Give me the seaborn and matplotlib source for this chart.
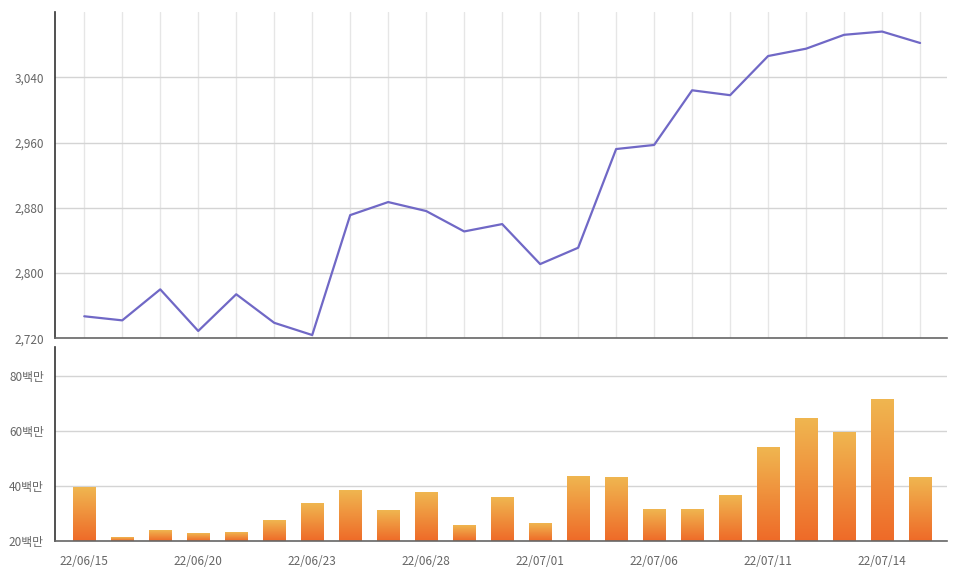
import numpy as np
import pandas as pd
import matplotlib
matplotlib.use("Agg")
import matplotlib.pyplot as plt
from matplotlib.colors import LinearSegmentedColormap
from matplotlib.ticker import FuncFormatter
import seaborn as sns

#data
dates = ["22/06/15", "22/06/16", "22/06/17", "22/06/20", "22/06/21", "22/06/22",
         "22/06/23", "22/06/24", "22/06/27", "22/06/28", "22/06/29", "22/06/30",
         "22/07/01", "22/07/04", "22/07/05", "22/07/06", "22/07/07", "22/07/08",
         "22/07/11", "22/07/12", "22/07/13", "22/07/14", "22/07/15"]
index_values = [2747, 2742, 2780, 2729, 2774, 2739, 2724, 2871, 2887, 2876, 2851, 2860,
                2811, 2831, 2952, 2957, 3024, 3018, 3066, 3075, 3092, 3096, 3082]
volume_millions = [39.4, 21.1, 23.9, 22.8, 23.2, 27.6, 33.7, 38.4, 30.9, 37.5, 25.8, 35.7,
                   26.5, 43.5, 43.2, 31.3, 31.3, 36.4, 53.9, 64.6, 59.2, 71.3, 43.2]

df = pd.DataFrame({"date": dates, "pos": range(len(dates)),
                   "index": index_values, "volume": volume_millions})

sns.set_style("white")
plt.rcParams["font.family"] = ["Noto Sans CJK KR", "DejaVu Sans"]

fig = plt.figure(figsize=(9.6, 5.84), dpi=100)
ax1 = fig.add_axes([0.0573, 0.4207, 0.9292, 0.5588])
ax2 = fig.add_axes([0.0573, 0.0736, 0.9292, 0.3327])

xmin, xmax = -0.77, len(dates) - 1 + 0.71

#top: index line
for x in df["pos"]:
    ax1.axvline(x, color="#e6e6e6", lw=1, zorder=0)
sns.lineplot(data=df, x="pos", y="index", ax=ax1, color="#7068c6", lw=1.6, zorder=3)
ax1.set_ylim(2720, 3120)
ax1.set_xlim(xmin, xmax)
ax1.set_yticks([2720, 2800, 2880, 2960, 3040])
ax1.yaxis.set_major_formatter(FuncFormatter(lambda v, p: f"{int(v):,}"))
ax1.grid(axis="y", color="#d4d4d4", lw=1)
ax1.set_xticks([])
ax1.set_xlabel("")
ax1.set_ylabel("")

#bottom: volume bars, then a vertical gradient inside each bar
sns.barplot(data=df, x="pos", y="volume", ax=ax2, color="#ef8a3a", width=0.58,
            native_scale=True, zorder=2)
ax2.set_ylim(20, 90.5)
ax2.set_xlim(xmin, xmax)
ax2.set_yticks([20, 40, 60, 80])
ax2.yaxis.set_major_formatter(FuncFormatter(lambda v, p: f"{int(v)}백만"))
ax2.grid(axis="y", color="#d4d4d4", lw=1)
ax2.set_axisbelow(True)

cmap = LinearSegmentedColormap.from_list("bar", ["#ee6a28", "#f0b650"])
grad = np.linspace(0, 1, 256).reshape(-1, 1)
ybottom = ax2.get_ylim()[0]
for p in list(ax2.patches):
    x0, w = p.get_x(), p.get_width()
    top = p.get_y() + p.get_height()
    ax2.imshow(grad, extent=[x0, x0 + w, ybottom, top], origin="lower",
               aspect="auto", cmap=cmap, zorder=2.5, vmin=0, vmax=1)
    p.set_visible(False)
ax2.set_xlim(xmin, xmax)
ax2.set_ylim(20, 90.5)

tick_pos = list(range(0, len(dates), 3))
ax2.set_xticks(tick_pos)
ax2.set_xticklabels([dates[i] for i in tick_pos])
ax2.set_xlabel("")
ax2.set_ylabel("")

for ax in (ax1, ax2):
    for s in ("top", "right"):
        ax.spines[s].set_visible(False)
    ax.spines["left"].set_color("#333333")
    ax.spines["left"].set_linewidth(1.2)
    ax.spines["bottom"].set_color("#666666")
    ax.spines["bottom"].set_linewidth(1.2)
    ax.spines["bottom"].set_zorder(4)
    ax.tick_params(axis="both", length=0, labelsize=8.5, colors="#666666", pad=8)

ax2.tick_params(axis="x", pad=10)

fig.savefig("out.png", dpi=100, facecolor="white")
